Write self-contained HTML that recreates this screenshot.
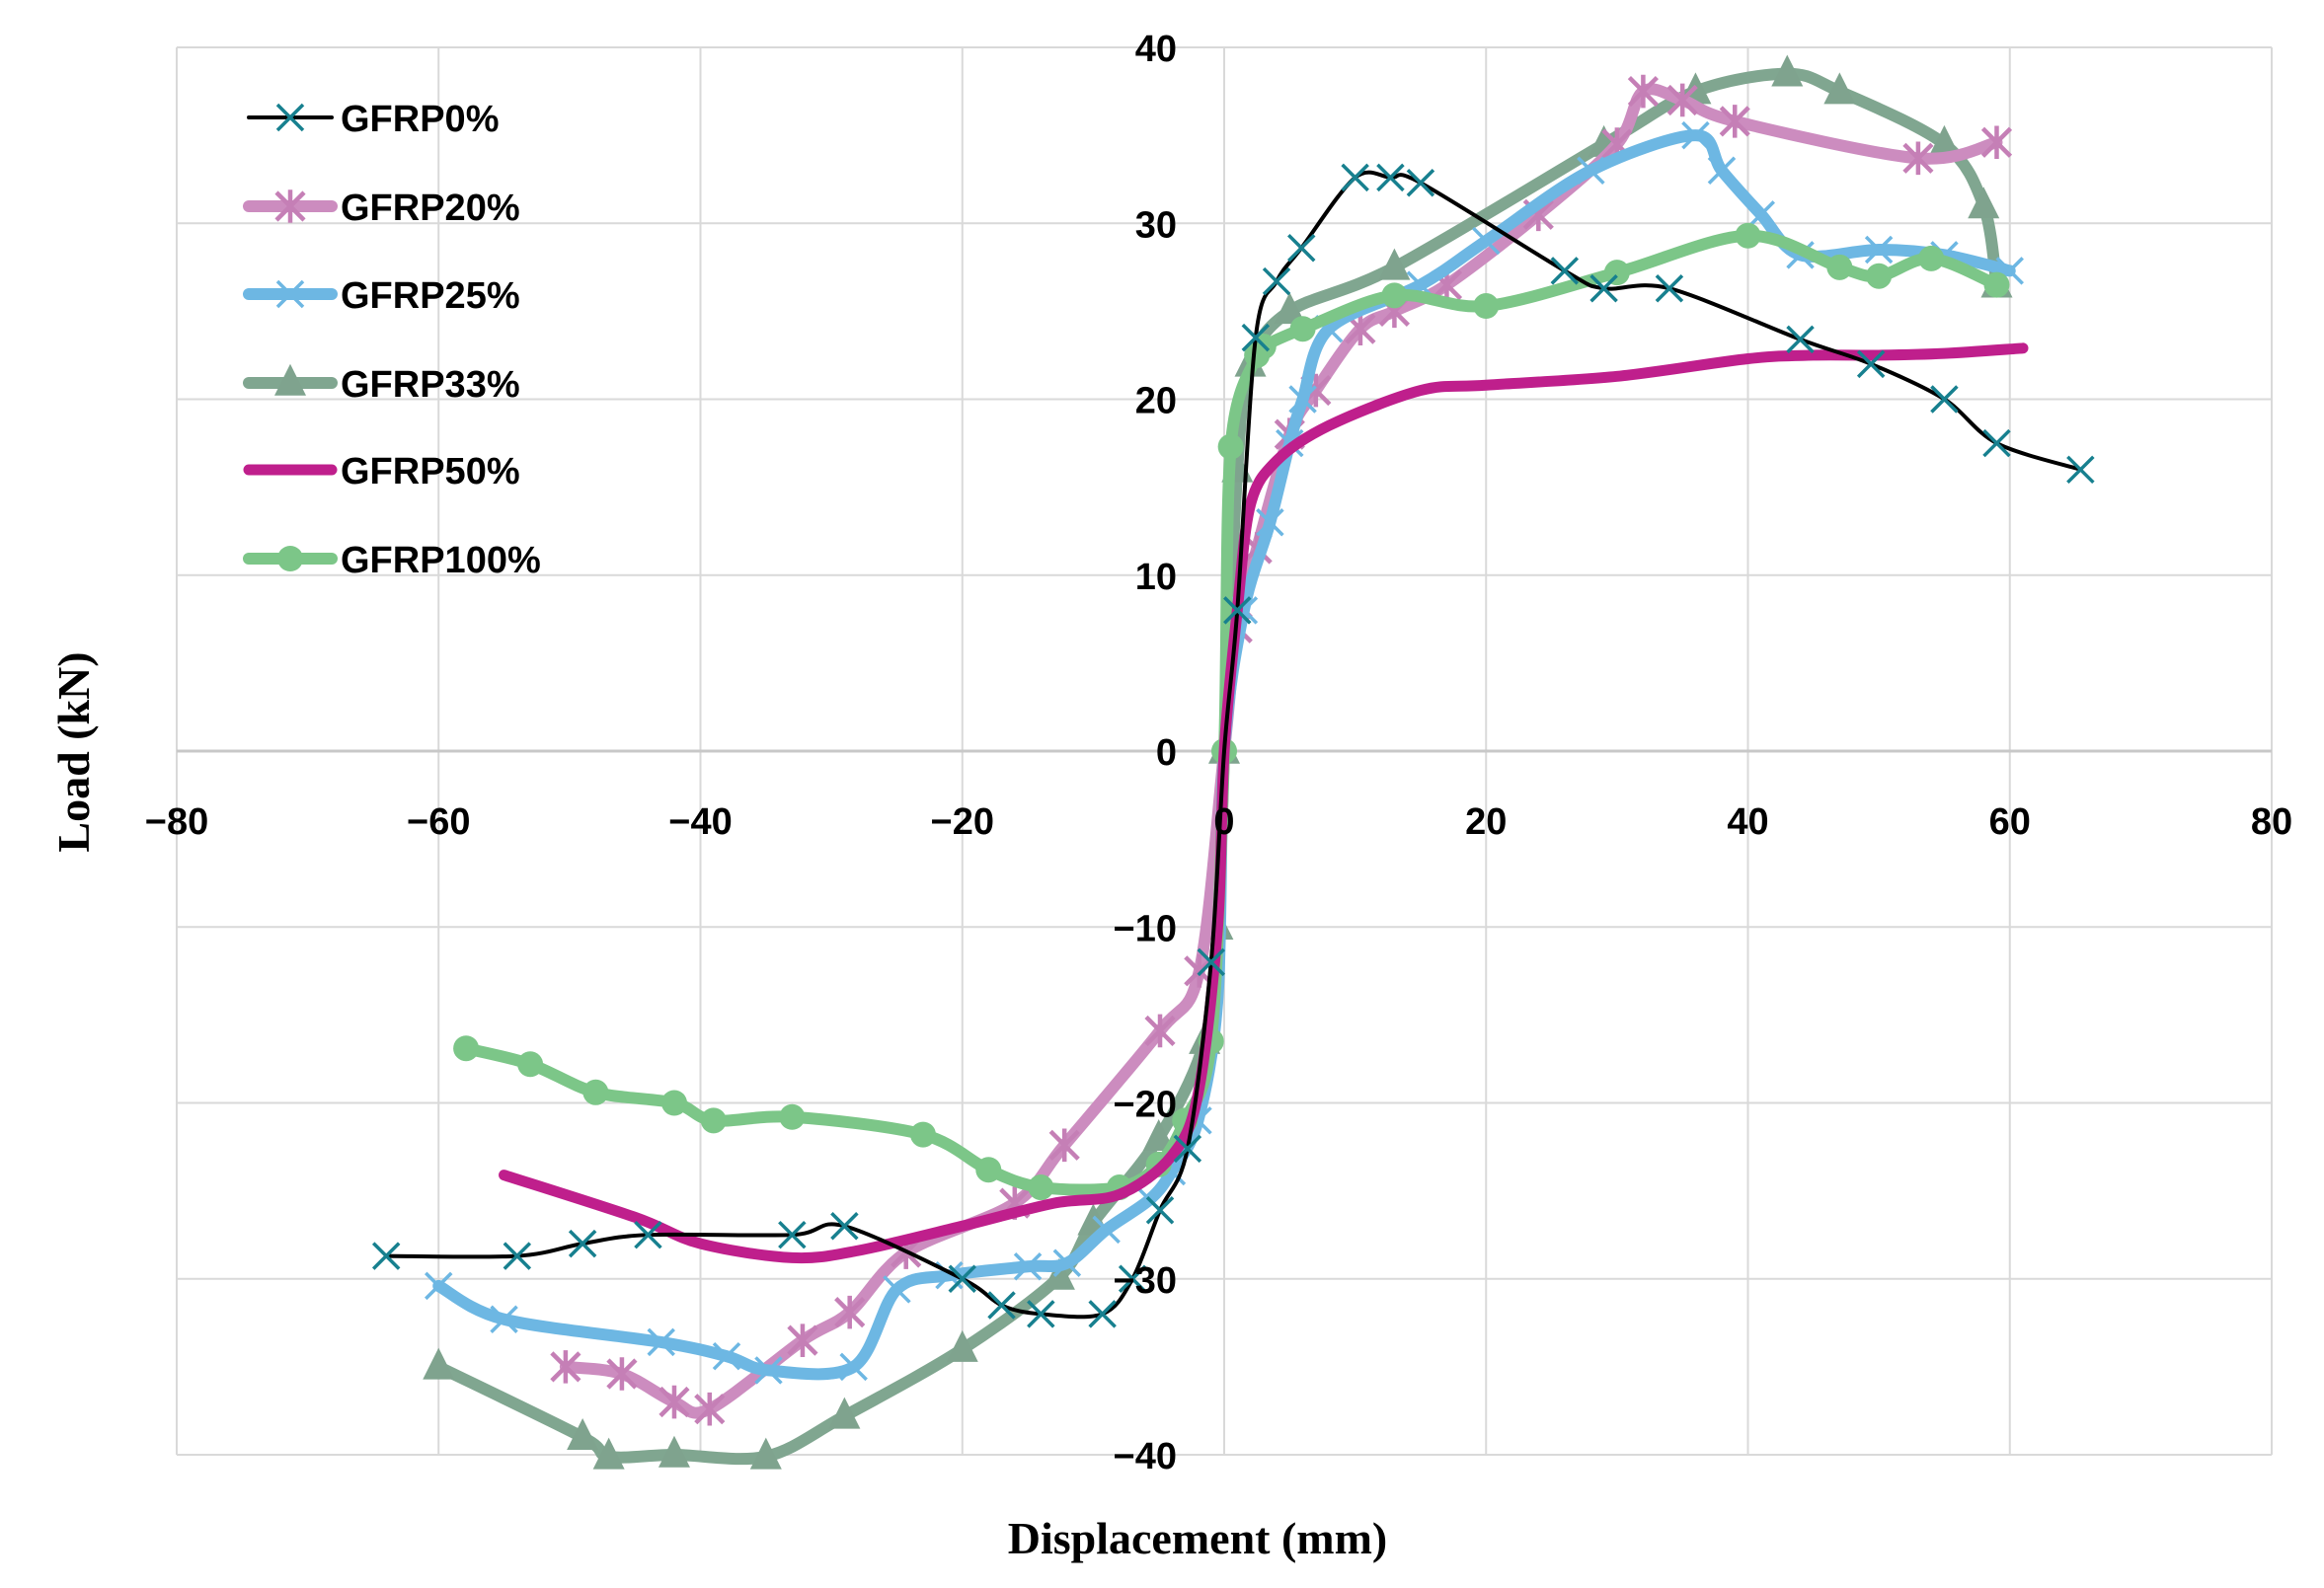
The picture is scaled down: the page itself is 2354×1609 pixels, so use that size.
<!DOCTYPE html>
<html><head><meta charset="utf-8"><style>
html,body{margin:0;padding:0;background:#fff;}
svg{display:block;}
</style></head><body>
<svg id="chart" width="2354" height="1609" viewBox="0 0 2354 1609" xmlns="http://www.w3.org/2000/svg">
<g id="grid"></g>
<g id="series"></g>
<g id="ticks"></g>
<g id="legend"></g>
<text transform="translate(90,762) rotate(-90)" text-anchor="middle" font-family="Liberation Serif, serif" font-weight="bold" font-size="46">Load (kN)</text>
<text x="1213" y="1574" text-anchor="middle" font-family="Liberation Serif, serif" font-weight="bold" font-size="46">Displacement (mm)</text>
</svg>
<script>
const xTicks = [-80,-60,-40,-20,0,20,40,60,80];
const yTicks = [-40,-30,-20,-10,0,10,20,30,40];
const seriesNames = ["GFRP0%","GFRP20%","GFRP25%","GFRP33%","GFRP50%","GFRP100%"];
const g0x = [-64,-54,-49,-44,-33,-29,-20,-17,-14,-9.3,-7,-4.9,-2.8,-1,0,1,2.4,4,5.9,10,12.7,15,26,29,34,44,49.4,55,59,65.4];
const g0y = [-28.7,-28.7,-28,-27.5,-27.5,-27,-30,-31.5,-32,-32,-30,-26.1,-22.6,-12,0,8,23.5,26.7,28.6,32.6,32.6,32.3,27.3,26.3,26.3,23.4,22,20,17.5,16];
const g20x = [-50.3,-46,-42,-39.3,-32.2,-28.6,-24.3,-16,-12.2,-4.9,-1.9,0,1,2.5,5,7,10.4,13,17,24,30,32,35,39,53,59];
const g20y = [-35,-35.4,-37,-37.4,-33.5,-31.9,-28.5,-25.7,-22.4,-15.9,-12.5,0,7,11.5,18,20.5,24,25,26.5,30.5,34.5,37.5,37,35.8,33.7,34.6];
const g25x = [-60,-55,-43,-38,-34.8,-28.3,-25,-21,-15,-12,-9,-5.7,-4,-2,-0.5,0,1.5,3.5,5,6,8,15,20,28,36,38,41,44,50,55,60];
const g25y = [-30.4,-32.3,-33.6,-34.4,-35.2,-35,-30.6,-29.8,-29.3,-29.1,-27.2,-25.5,-23.9,-21,-14,0,8,13,17.5,20,24,26.5,29,33,35,33,30.5,28.2,28.5,28.2,27.3];
const g33x = [-60,-49,-47,-42,-35,-29,-20,-12.6,-10,-5,-1.5,-0.5,0,1,2,5,13,29,36,43,47,55,58,59];
const g33y = [-35,-39,-40.1,-40,-40.1,-37.8,-34,-29.9,-26.8,-22,-16.5,-10,0,16,22,25,27.5,34.5,37.5,38.5,37.5,34.5,31,26.5];
const g50x = [-55,-45,-40,-33,-28,-20,-13,-8,-4,-2,-0.5,0,1,2,4,8,15,20,30,40,45,50,55,61];
const g50y = [-24.1,-26.5,-28,-28.8,-28.4,-27,-25.7,-25.2,-23,-19.5,-10,0,8,14,16.5,18.5,20.5,20.8,21.3,22.3,22.5,22.5,22.6,22.9];
const g100x = [-57.9,-53,-48,-42,-39,-33,-23,-18,-14,-8,-5,-3,-1,0,0.5,2.5,3,6,13,20,30,40,47,50,54,59];
const g100y = [-16.9,-17.8,-19.4,-20,-21,-20.8,-21.8,-23.8,-24.8,-24.8,-23.5,-21,-16.5,0,17.3,22.5,23,24,25.9,25.3,27.2,29.3,27.5,27,28,26.5];

const X0=179, X1=2301, Y0=1474, Y1=48;
const sx = v => X0 + (v + 80) / 160 * (X1 - X0);
const sy = v => Y0 - (v + 40) / 80 * (Y0 - Y1);
const NS = "http://www.w3.org/2000/svg";
function mk(tag, attrs, parent){const e=document.createElementNS(NS,tag);for(const k in attrs)e.setAttribute(k,attrs[k]);parent.appendChild(e);return e;}

const grid=document.getElementById('grid'), ticks=document.getElementById('ticks');
xTicks.forEach(t=>{
  const l=mk('line',{x1:sx(t),x2:sx(t),y1:Y1,y2:Y0,stroke:'#d9d9d9','stroke-width':2},grid);
  
  
  const tx=mk('text',{x:sx(t),y:845,'text-anchor':'middle','font-family':'Liberation Sans Narrow, Liberation Sans, sans-serif','font-weight':'bold','font-size':38},ticks);
  tx.textContent = t<0 ? '\u2212'+Math.abs(t) : String(t);
  
  
});
yTicks.forEach(t=>{
  const l=mk('line',{x1:X0,x2:X1,y1:sy(t),y2:sy(t),stroke:(t===0?'#c8c8c8':'#d9d9d9'),'stroke-width':(t===0?3:2)},grid);
  
  
  const tx=mk('text',{x:1192,y:sy(t)+14,'text-anchor':'end','font-family':'Liberation Sans Narrow, Liberation Sans, sans-serif','font-weight':'bold','font-size':38},ticks);
  tx.textContent = t<0 ? '\u2212'+Math.abs(t) : String(t);
  
  
});

function smoothPath(xs,ys){
  const p=xs.map((x,i)=>[sx(x),sy(ys[i])]);
  let d='M'+p[0][0]+','+p[0][1];
  const k=0.16;
  for(let i=0;i<p.length-1;i++){
    const p0=p[Math.max(i-1,0)],p1=p[i],p2=p[i+1],p3=p[Math.min(i+2,p.length-1)];
    d+=' C'+(p1[0]+(p2[0]-p0[0])*k)+','+(p1[1]+(p2[1]-p0[1])*k)+' '+(p2[0]-(p3[0]-p1[0])*k)+','+(p2[1]-(p3[1]-p1[1])*k)+' '+p2[0]+','+p2[1];
  }
  return d;
}
function marker(type,cx,cy,color,parent,s){
  if(type==='x'){
    mk('path',{d:`M${cx-s},${cy-s}L${cx+s},${cy+s}M${cx-s},${cy+s}L${cx+s},${cy-s}`,stroke:color,'stroke-width':3.5,fill:'none'},parent);
  } else if(type==='star'){
    mk('path',{d:`M${cx-s},${cy-s}L${cx+s},${cy+s}M${cx-s},${cy+s}L${cx+s},${cy-s}M${cx},${cy-s*1.2}L${cx},${cy+s*1.2}`,stroke:color,'stroke-width':4.5,fill:'none'},parent);
  } else if(type==='tri'){
    mk('path',{d:`M${cx},${cy-s*1.2}L${cx+s},${cy+s*0.8}L${cx-s},${cy+s*0.8}Z`,fill:color},parent);
  } else if(type==='circle'){
    mk('circle',{cx:cx,cy:cy,r:s,fill:color},parent);
  }
}
const cfg=[
 {xs:g0x,ys:g0y,color:'#000',mcol:'#17808f',w:4,m:'x',ms:13,name:'gfrp0-line'},
 {xs:g20x,ys:g20y,color:'#cc8cbf',mcol:'#c57fb6',w:12,m:'star',ms:14,name:'gfrp20-line'},
 {xs:g25x,ys:g25y,color:'#6db7e3',mcol:'#6db7e3',w:12,m:'x',ms:13,name:'gfrp25-line'},
 {xs:g33x,ys:g33y,color:'#80a690',mcol:'#7fa38e',w:12,m:'tri',ms:16,name:'gfrp33-line'},
 {xs:g50x,ys:g50y,color:'#bf1f8c',mcol:null,w:11,m:null,ms:0,name:'gfrp50-line'},
 {xs:g100x,ys:g100y,color:'#7cc688',mcol:'#7cc688',w:12,m:'circle',ms:13,name:'gfrp100-line'}
];
const sg=document.getElementById('series');
const drawOrder=[3,1,2,5,4,0];
drawOrder.forEach(i=>{
  const c=cfg[i];
  const g=mk('g',{},sg);
  
  
  const p=mk('path',{d:smoothPath(c.xs,c.ys),stroke:c.color,'stroke-width':c.w,fill:'none','stroke-linejoin':'round','stroke-linecap':'round'},g);
  
  
  if(c.m){c.xs.forEach((x,j)=>{if(Math.abs(x)<0.6 && c.m!=='tri' && c.m!=='circle') return; marker(c.m,sx(x),sy(c.ys[j]),c.mcol,g,c.ms);});}
});
const lg=document.getElementById('legend');
const ly=[119,209,298,388,476,566];
cfg.forEach((c,i)=>{
  const g=mk('g',{},lg);
  
  
  mk('line',{x1:252,x2:336,y1:ly[i],y2:ly[i],stroke:c.color,'stroke-width':c.w,'stroke-linecap':'round'},g);
  if(c.m) marker(c.m,294,ly[i],c.mcol,g,c.ms);
  const t=mk('text',{x:345,y:ly[i]+14,'font-family':'Liberation Sans Narrow, Liberation Sans, sans-serif','font-weight':'bold','font-size':38},g);
  t.textContent=seriesNames[i];
  
  
});
</script>
</body></html>
